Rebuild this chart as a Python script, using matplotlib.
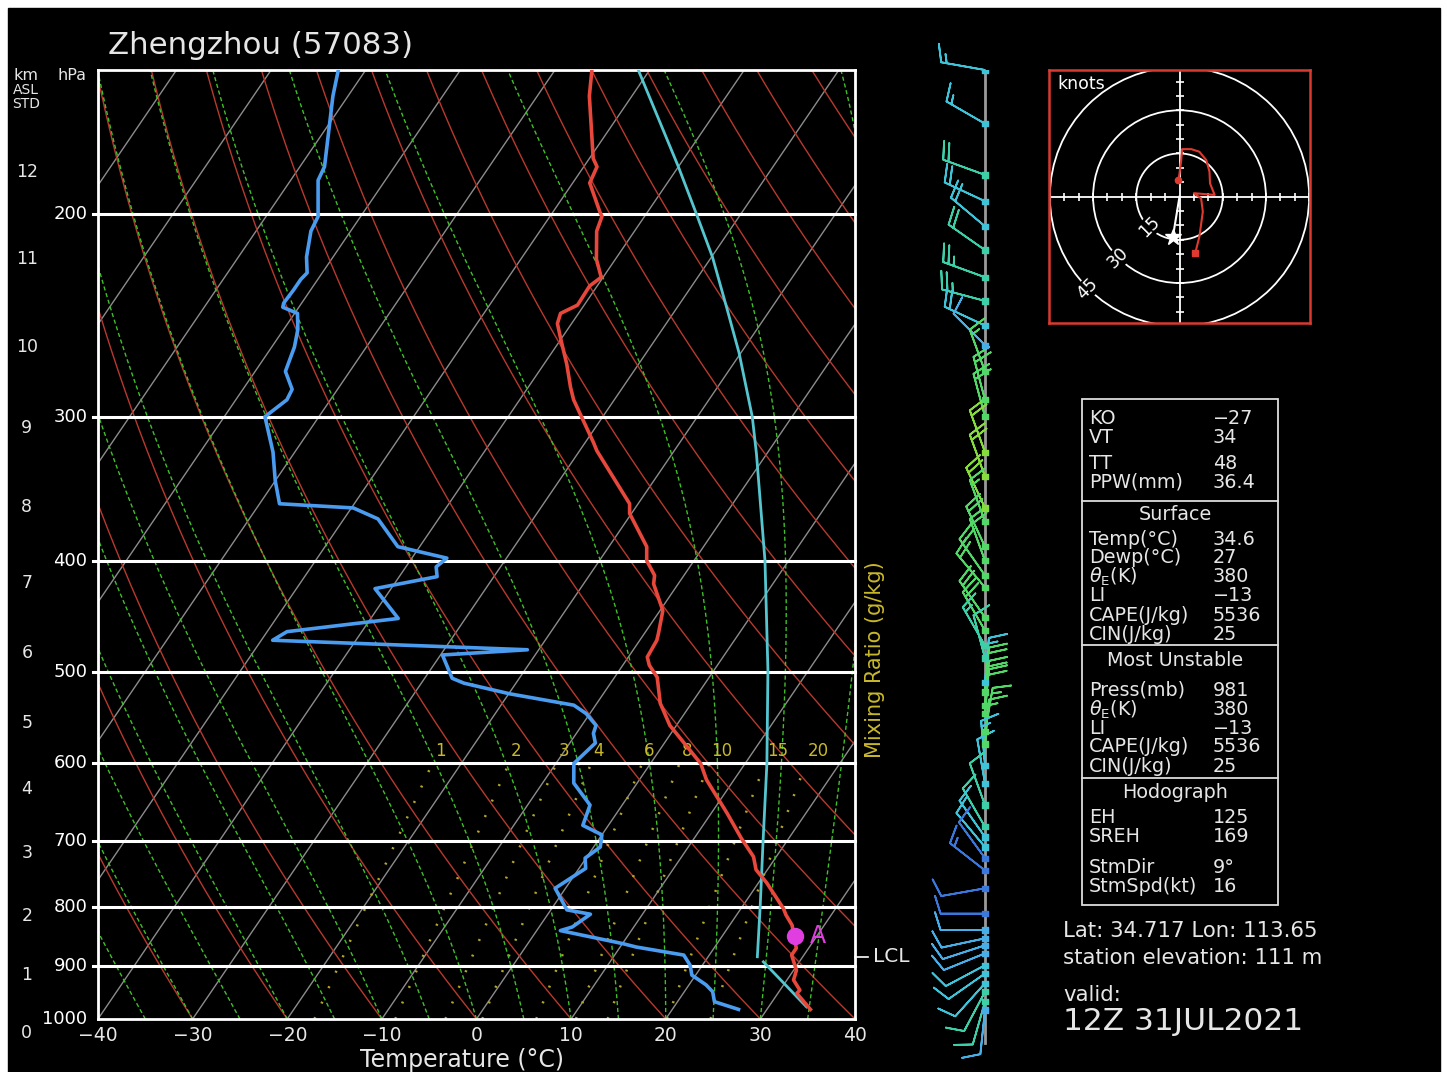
import numpy as np
import matplotlib
matplotlib.use("Agg")
import matplotlib.pyplot as plt
import matplotlib.transforms as mtransforms
from matplotlib.patches import Rectangle, Circle
from matplotlib.ticker import NullLocator

# ---------------- data ----------------
temp_p = [150, 158, 179, 182, 188, 199, 201, 207, 219, 227, 231, 240, 244, 249, 257,
          270, 283, 290, 316, 321, 357, 364, 389, 400, 412, 419, 442, 463, 469, 485,
          493, 505, 532, 556, 600, 620, 663, 697, 723, 742, 762, 802, 812, 829, 868,
          880, 907, 925, 944, 950, 981]
temp_t = [-56.1, -54.5, -49.6, -48.6, -48.2, -45.1, -44.5, -44.0, -42.0, -40.2, -40.8,
          -40.7, -41.9, -41.5, -40.0, -37.6, -35.5, -34.3, -29.1, -28.2, -20.9, -20.2,
          -16.0, -15.0, -13.1, -12.6, -9.7, -8.5, -8.2, -8.0, -7.2, -5.5, -3.3, -0.7,
          5.3, 7.1, 11.7, 15.0, 17.6, 18.8, 20.9, 24.5, 25.2, 26.6, 28.7, 28.7, 30.3,
          30.7, 32.1, 32.0, 34.6]

dew_p = [150, 158, 169, 182, 187, 201, 207, 218, 225, 228, 233, 239, 241, 244, 252,
         261, 274, 284, 290, 300, 322, 341, 357, 360, 368, 389, 398, 405, 413, 423,
         449, 461, 469, 478, 483, 506, 511, 522, 534, 543, 556, 565, 576, 600, 624,
         652, 679, 692, 709, 725, 740, 770, 804, 811, 832, 838, 860, 866, 880, 898,
         916, 934, 947, 966, 981]
dew_t = [-82.9, -81.6, -79.6, -77.4, -77.1, -74.5, -74.2, -72.8, -71.6, -71.8, -71.8,
         -71.9, -71.7, -69.7, -68.5, -67.6, -66.8, -64.8, -64.6, -65.7, -62.3, -60.0,
         -57.9, -49.8, -46.4, -42.3, -36.3, -36.8, -36.0, -41.7, -37.1, -47.9, -48.8,
         -21.2, -29.8, -27.1, -25.5, -19.9, -12.3, -10.4, -8.5, -8.2, -7.3, -8.1, -6.7,
         -3.4, -2.7, 0.0, 0.7, -0.1, 0.7, -1.1, 1.7, 4.5, 3.5, 2.5, 10.0, 11.7, 17.3,
         18.7, 19.6, 21.8, 23.0, 23.9, 27.0]

parcel_moist_p = [150, 182, 200, 218, 241, 264, 300, 323, 400, 498, 600, 699, 799, 883]
parcel_moist_t = [-51.2, -40.0, -34.7, -29.9, -24.8, -20.2, -14.2, -11.1, -2.5, 5.7,
                  12.3, 17.4, 21.9, 25.2]
parcel_dry_p = [892, 976]
parcel_dry_t = [26.2, 34.0]
lcl_p = 883
point_a_p = 847
point_a_t = 27.7

wind_p = [150, 167, 185, 195, 205, 215, 227, 238, 250, 260,
          274, 290, 300, 322, 338, 360, 370, 389, 400, 412,
          422, 448, 460, 474, 486, 510, 520, 534, 543, 563,
          577, 602, 624, 652, 681, 695, 709, 725, 743, 770,
          810, 837, 851, 863, 877, 898, 913, 931, 947, 966, 982]
wind_dir = [280, 300, 290, 295, 310, 305, 290, 285, 295, 315,
            340, 345, 345, 340, 340, 335, 340, 335, 340, 325,
            320, 325, 330, 330, 345, 5, 5, 5, 5, 10,
            5, 355, 350, 340, 330, 325, 320, 324, 308, 260,
            270, 270, 258, 252, 248, 242, 235, 222, 208, 196, 186]
wind_spd = [15, 15, 20, 20, 20, 20, 25, 25, 20, 10,
            15, 20, 20, 20, 20, 20, 15, 20, 20, 20,
            20, 20, 20, 15, 10, 15, 20, 20, 20, 15,
            15, 15, 10, 10, 10, 10, 10, 10, 15, 10,
            10, 10, 10, 10, 10, 10, 10, 10, 10, 10, 10]
wind_cls = ['c', 'c', 't', 'c', 'c', 't', 't', 't', 'c', 'l',
            'g', 'g', 'g', 'y', 'y', 'y', 'g', 'g', 'g', 'g',
            'g', 'g', 'g', 't', 't', 'c', 'g', 'g', 'g', 'g',
            'g', 'c', 'c', 't', 't', 'c', 'c', 'b', 'b', 'b',
            'b', 'l', 'l', 'l', 'l', 'c', 'c', 'c', 't', 't', 'l']

hodo_u = [5.45, 6.9, 8.1, 7.5, 5.0, 12.2, 10.6, 10.4, 9.3, 6.9, 4.1, 0.9, 0.6, 0.0, -0.35]
hodo_v = [-19.7, -13.9, -5.2, -0.6, 1.2, 0.6, 4.6, 8.7, 12.7, 15.6, 16.5, 16.5, 12.7, 8.1, 5.8]
storm_u, storm_v = -2.3, -14.0
hodo_rings = [15, 30, 45]

km_labels = ['0', '1', '2', '3', '4', '5', '6', '7', '8', '9', '10', '11', '12']
km_p = [1028, 916, 814, 718, 632, 553, 481, 418, 359, 307, 261, 219, 184]
p_lines = [200, 300, 400, 500, 600, 700, 800, 900, 1000]
t_ticks = [-40, -30, -20, -10, 0, 10, 20, 30, 40]
mix_ratios = [1, 2, 3, 4, 6, 8, 10, 15, 20]

index_labels = ['KO', 'VT', 'TT', 'PPW(mm)']
index_values = ['\u221227', '34', '48', '36.4']
surface_labels = ['Temp(\u00b0C)', 'Dewp(\u00b0C)', r'$\theta_{\rm E}$(K)', 'LI', 'CAPE(J/kg)', 'CIN(J/kg)']
surface_values = ['34.6', '27', '380', '\u221213', '5536', '25']
mu_labels = ['Press(mb)', r'$\theta_{\rm E}$(K)', 'LI', 'CAPE(J/kg)', 'CIN(J/kg)']
mu_values = ['981', '380', '\u221213', '5536', '25']
hodo_labels = ['EH', 'SREH', 'StmDir', 'StmSpd(kt)']
hodo_values = ['125', '169', '9\u00b0', '16']

# ---------------- helpers ----------------
SKEW = 36.0
W, H = 1447, 1072


def skx(t, p):
    return np.asarray(t, float) + SKEW * np.log(1000.0 / np.asarray(p, float))


def rect(x0, y0, x1, y1):
    return [x0 / W, 1 - y1 / H, (x1 - x0) / W, (y1 - y0) / H]


def moist_adiabat(t0, pp):
    Rd, Cp, Lv, eps = 287.04, 1005.7, 2.501e6, 0.622

    def f(T, p):
        tc = T - 273.15
        es = 6.112 * np.exp(17.67 * tc / (tc + 243.5))
        rs = eps * es / (p - es)
        return (Rd * T + Lv * rs) / (p * (Cp + Lv * Lv * rs * eps / (Rd * T * T)))

    T = t0 + 273.15
    out = [T]
    for i in range(1, len(pp)):
        dp = pp[i] - pp[i - 1]
        k1 = f(T, pp[i - 1])
        k2 = f(T + k1 * dp / 2, pp[i - 1] + dp / 2)
        T = T + k2 * dp
        out.append(T)
    return np.array(out) - 273.15


def dewpoint_from_w(w, p):
    e = w * p / (622.0 + w)
    a = np.log(e / 6.112)
    return 243.5 * a / (17.67 - a)


FG = '#e6e6e6'
fig = plt.figure(figsize=(W / 100, H / 100), dpi=100, facecolor='white')

ov = fig.add_axes([0, 0, 1, 1])
ov.set_xlim(0, W)
ov.set_ylim(H, 0)
ov.axis('off')
ov.add_patch(Rectangle((8, 8), 1432, 1064, color='black', zorder=0))

# ---------------- main skew-T ----------------
ax = fig.add_axes(rect(98, 70, 855, 1019))
ax.set_facecolor('black')
ax.set_yscale('log')
ax.set_ylim(1000, 150)
ax.set_xlim(-40, 40)
ax.yaxis.set_major_locator(NullLocator())
ax.yaxis.set_minor_locator(NullLocator())
for s in ax.spines.values():
    s.set_color('white')
    s.set_linewidth(2)

pg = np.linspace(1000, 150, 400)
for t in range(-120, 50, 10):
    ax.plot(skx(t, pg), pg, color='#8c8c8c', lw=1.0, zorder=1)
for th in range(-60, 210, 10):
    tt = (th + 273.15) * (pg / 1000.0) ** 0.2857 - 273.15
    ax.plot(skx(tt, pg), pg, color='#b8392e', lw=1.0, zorder=1)
for t0 in range(-40, 50, 5):
    tm = moist_adiabat(t0, pg)
    ax.plot(skx(tm, pg), pg, color='#3fbf2a', lw=1.0, ls=(0, (3, 2)), zorder=1.2)
pm = np.linspace(1000, 600, 100)
for w in mix_ratios:
    td = dewpoint_from_w(w, pm)
    ax.plot(skx(td, pm), pm, color='#b4a628', lw=1.8, ls=(0, (0.8, 6)), zorder=1.1)
    ax.annotate(str(w), (skx(dewpoint_from_w(w, 585.0), 585.0), 585.0),
                xytext=(-2.5, 0), textcoords='offset points', ha='left', va='center',
                color='#c8b82a', fontsize=12, zorder=5)

blend = mtransforms.blended_transform_factory(ax.transAxes, ax.transData)
for p in p_lines[:-1]:
    ax.plot([-0.007, 1.0], [p, p], transform=blend, color='white', lw=2.2,
            clip_on=False, zorder=3)
for p in p_lines:
    ax.text(-0.014, p, str(p), transform=blend, ha='right', va='center',
            color='white', fontsize=13)
for lab, p in zip(km_labels, km_p):
    ax.text(-0.094, p, lab, transform=blend, ha='center', va='center',
            color=FG, fontsize=12.5)

ax.plot(skx(temp_t, temp_p), temp_p, color='#e8473b', lw=2.6, zorder=6)
ax.plot(skx(dew_t, dew_p), dew_p, color='#4a9cf0', lw=2.6, zorder=6)
ax.plot(skx(parcel_moist_t, parcel_moist_p), parcel_moist_p, color='#55c6cf', lw=2.0, zorder=5)
ax.plot(skx(parcel_dry_t, parcel_dry_p), parcel_dry_p, color='#55c6cf', lw=2.0, zorder=5)
ax.plot(skx(point_a_t, point_a_p), point_a_p, 'o', ms=11.5, color='#e03ee0', zorder=7)
ax.annotate('A', (skx(point_a_t, point_a_p), point_a_p), xytext=(16, 0),
            textcoords='offset points', ha='center', va='center', color='#e03ee0',
            fontsize=17, zorder=7)

ax.plot([1.0, 1.017], [lcl_p, lcl_p], transform=blend, color='white', lw=1.2, clip_on=False)
ax.text(1.024, lcl_p, 'LCL', transform=blend, ha='left', va='center', color=FG, fontsize=14.5)
ax.text(1.027, 488, 'Mixing Ratio (g/kg)', transform=blend, rotation=90, ha='center',
        va='center', color='#c8b82a', fontsize=15)

ax.set_xticks(t_ticks)
ax.set_xticklabels([('\u2212%d' % -t) if t < 0 else str(t) for t in t_ticks])
ax.tick_params(axis='x', length=0, pad=5, labelsize=13.5, labelcolor=FG)

# ---------------- titles & headers ----------------
ov.text(108, 45, 'Zhengzhou (57083)', ha='left', va='center', color=FG, fontsize=22.2, zorder=5)
ov.text(26, 76, 'km', ha='center', va='center', color=FG, fontsize=11.5, zorder=5)
ov.text(72, 76, 'hPa', ha='center', va='center', color=FG, fontsize=11.5, zorder=5)
ov.text(26, 90, 'ASL', ha='center', va='center', color=FG, fontsize=10, zorder=5)
ov.text(26, 104, 'STD', ha='center', va='center', color=FG, fontsize=10, zorder=5)
ov.text(462, 1067, 'Temperature (\u00b0C)', ha='center', va='baseline', color=FG,
        fontsize=17, zorder=5)

# ---------------- wind column ----------------
wax = fig.add_axes(rect(925, 70, 1045, 1048.2))
wax.set_yscale('log')
wax.set_ylim(1060, 150)
wax.set_xlim(-60, 60)
wax.axis('off')
cmap_cls = {'c': '#3fc3d8', 't': '#3ccfa8', 'g': '#52d866', 'y': '#86dc3c',
            'b': '#3a78dc', 'l': '#48aee8'}
wcols = [cmap_cls[k] for k in wind_cls]
wax.plot([0, 0], [1050, 150], color='#9a9a9a', lw=2, zorder=1)
rad = np.deg2rad(np.asarray(wind_dir, float))
wu = -np.asarray(wind_spd, float) * np.sin(rad)
wv = -np.asarray(wind_spd, float) * np.cos(rad)
wax.barbs(np.zeros(len(wind_p)), wind_p, wu, wv, length=8, barbcolor=wcols,
          flagcolor=wcols, linewidth=1.3, zorder=2, clip_on=False)
wax.scatter(np.zeros(len(wind_p)), wind_p, c=wcols, marker='s', s=14, zorder=3)

# ---------------- hodograph ----------------
hax = fig.add_axes(rect(1049, 70, 1310, 323.3))
hax.set_facecolor('black')
hax.set_xlim(-45.3, 45.3)
hax.set_ylim(-44, 44)
hax.set_xticks([])
hax.set_yticks([])
for s in hax.spines.values():
    s.set_color('#d83a30')
    s.set_linewidth(1.8)
for r in hodo_rings:
    hax.add_patch(Circle((0, 0), r, fill=False, ec='white', lw=1.3))
hax.axhline(0, color='white', lw=1.3)
hax.axvline(0, color='white', lw=1.3)
tk = np.array([k for k in range(-45, 50, 5) if k != 0])
hax.plot(tk, np.zeros_like(tk), ls='none', marker='|', ms=6, mew=1.2, color='white')
hax.plot(np.zeros_like(tk), tk, ls='none', marker='_', ms=6, mew=1.2, color='white')
for r in hodo_rings:
    a = np.deg2rad(225)
    hax.text(r * np.cos(a), r * np.sin(a), str(r), rotation=45, ha='center', va='center',
             color='white', fontsize=12.5,
             bbox=dict(facecolor='black', edgecolor='none', pad=0.5))
hax.text(-42.5, 39.2, 'knots', ha='left', va='center', color='white', fontsize=12.5)
hax.plot(hodo_u, hodo_v, color='#e03a30', lw=1.5, zorder=4)
hax.plot(hodo_u[0], hodo_v[0], 's', ms=4.5, color='#e03a30', zorder=5)
hax.plot(hodo_u[-1], hodo_v[-1], 'o', ms=4.5, color='#e03a30', zorder=5)
hax.plot([0, storm_u], [0, storm_v], color='white', lw=1.5, zorder=4)
hax.plot(storm_u, storm_v, marker='*', ms=12, color='white', zorder=5)

# ---------------- indices panel ----------------
ov.add_patch(Rectangle((1082, 399), 196, 506, fill=False, ec='#dddddd', lw=1.3, zorder=2))
for y in [501, 645, 778.3]:
    ov.plot([1082, 1278], [y, y], color='#dddddd', lw=1.3, zorder=2)
LX, VX, CX = 1089, 1213, 1175
TFS = 13.8


def rows(labels, values, ys):
    for lab, val, y in zip(labels, values, ys):
        ov.text(LX, y, lab, ha='left', va='center', color=FG, fontsize=TFS, zorder=5)
        ov.text(VX, y, val, ha='left', va='center', color=FG, fontsize=TFS, zorder=5)


rows(index_labels, index_values, [419, 437.7, 463.3, 482.3])
ov.text(CX, 514, 'Surface', ha='center', va='center', color=FG, fontsize=TFS, zorder=5)
rows(surface_labels, surface_values, [539.3, 557.7, 577, 595.3, 615.7, 634.3])
ov.text(CX, 660, 'Most Unstable', ha='center', va='center', color=FG, fontsize=TFS, zorder=5)
rows(mu_labels, mu_values, [690, 709.7, 728.3, 747, 766.3])
ov.text(CX, 792.3, 'Hodograph', ha='center', va='center', color=FG, fontsize=TFS, zorder=5)
rows(hodo_labels, hodo_values, [817.7, 836, 867.7, 886.7])

ov.text(1063, 931, 'Lat: 34.717 Lon: 113.65', ha='left', va='center', color=FG, fontsize=15.3, zorder=5)
ov.text(1063, 957.5, 'station elevation: 111 m', ha='left', va='center', color=FG, fontsize=15.3, zorder=5)
ov.text(1063, 995, 'valid:', ha='left', va='center', color=FG, fontsize=15.3, zorder=5)
ov.text(1063, 1021, '12Z 31JUL2021', ha='left', va='center', color=FG, fontsize=22.5, zorder=5)

fig.savefig('out.png', dpi=100, facecolor='white')
